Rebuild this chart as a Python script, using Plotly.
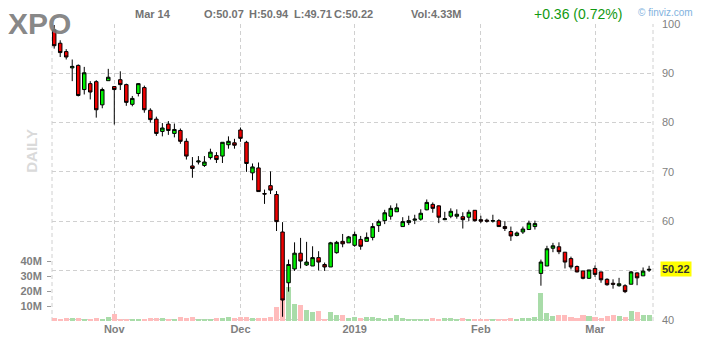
import plotly.graph_objects as go
import pandas as pd

W, H = 701, 347
L, R, T, B = 52, 48, 24, 23

# ---------------- data ----------------
holidays = ['2018-11-22', '2018-12-05', '2018-12-25', '2019-01-01', '2019-01-21', '2019-02-18']
dates = [d.strftime('%Y-%m-%d') for d in pd.bdate_range('2018-10-18', '2019-03-14')
         if d.strftime('%Y-%m-%d') not in holidays]

opens = [98.8, 96.1, 94.4, 91.1, 91.6, 86.7, 87.9, 88.3, 83.6, 88.5,
         87.3, 88.7, 87.7, 83.7, 85.9, 87.1, 82.5, 80.7, 78.2, 79.7,
         77.8, 78.4, 76.2, 71.2, 72.0, 71.3, 72.9, 73.3, 73.2, 75.5,
         75.9, 78.5, 76.0, 69.8, 70.8, 65.6, 67.2, 65.4, 57.8, 47.5,
         50.3, 53.5, 51.1, 50.9, 52.6, 51.2, 50.7, 53.6, 55.9, 55.6,
         55.1, 56.3, 55.9, 56.7, 59.1, 60.1, 61.0, 61.9, 58.9, 59.7,
         60.2, 60.4, 62.3, 63.4, 63.1, 60.3, 61.0, 61.0, 60.9, 60.8,
         62.2, 60.3, 60.2, 60.0, 60.1, 58.9, 57.9, 57.1, 57.8, 58.3,
         58.9, 49.4, 50.9, 54.5, 54.8, 53.7, 52.4, 50.8, 49.9, 48.4,
         50.4, 49.7, 48.2, 47.4, 46.9, 46.9, 47.2, 49.5, 48.9, 50.07]
highs = [99.8, 96.7, 94.9, 92.8, 91.8, 91.3, 88.4, 88.6, 87.1, 90.9,
         87.4, 90.4, 87.9, 85.4, 88.0, 87.5, 82.9, 81.2, 79.9, 80.3,
         79.8, 78.8, 76.8, 73.0, 73.2, 73.2, 74.7, 74.0, 76.0, 77.2,
         76.7, 79.0, 76.3, 71.7, 71.9, 66.4, 70.1, 66.1, 59.8, 52.2,
         55.7, 56.6, 55.8, 54.9, 53.9, 51.6, 55.8, 56.0, 57.4, 57.0,
         57.9, 57.0, 57.7, 59.6, 60.3, 62.3, 63.2, 63.6, 60.8, 61.1,
         61.3, 62.4, 64.4, 63.8, 63.2, 61.9, 62.6, 62.4, 61.8, 62.3,
         62.2, 61.1, 60.5, 61.3, 60.4, 60.0, 58.9, 57.9, 58.9, 60.1,
         60.1, 52.2, 55.0, 55.6, 55.7, 53.7, 52.8, 51.0, 49.9, 50.1,
         51.0, 49.7, 48.4, 48.2, 48.5, 47.2, 49.9, 49.6, 50.6, 50.94]
lows = [95.0, 93.3, 92.8, 88.4, 85.3, 85.7, 84.7, 81.0, 82.9, 88.5,
        79.6, 86.6, 83.4, 83.3, 85.3, 82.0, 80.0, 77.3, 77.2, 77.5,
        77.0, 75.7, 72.5, 68.8, 71.5, 71.0, 72.5, 71.8, 71.8, 74.7,
        74.7, 76.1, 70.0, 68.3, 66.0, 63.5, 65.5, 58.0, 40.6, 45.7,
        49.9, 50.4, 50.9, 50.9, 50.0, 49.9, 50.7, 53.4, 54.7, 55.6,
        54.8, 54.2, 55.9, 56.1, 57.8, 59.4, 60.3, 61.9, 58.9, 59.2,
        59.4, 60.1, 62.2, 61.7, 59.6, 60.2, 60.6, 60.5, 58.5, 60.0,
        59.9, 59.6, 59.7, 59.7, 58.9, 58.0, 56.0, 56.9, 57.4, 58.2,
        58.3, 46.9, 50.9, 53.7, 53.3, 50.4, 50.2, 49.6, 48.2, 48.3,
        48.7, 47.5, 46.9, 46.3, 46.7, 45.4, 47.2, 47.0, 48.9, 49.71]
closes = [95.6, 94.2, 93.3, 91.4, 85.5, 90.1, 86.2, 82.6, 86.7, 89.2,
          86.7, 87.7, 84.1, 84.9, 87.9, 82.6, 80.6, 77.8, 78.9, 78.4,
          78.6, 76.2, 73.2, 70.7, 72.2, 72.0, 74.0, 72.5, 76.0, 76.2,
          75.4, 76.8, 71.7, 71.0, 66.0, 65.5, 66.3, 59.9, 44.0, 51.2,
          53.5, 51.9, 51.7, 52.6, 51.7, 50.7, 55.6, 55.7, 55.4, 56.8,
          57.3, 54.9, 56.7, 58.9, 59.9, 61.7, 62.6, 62.7, 59.9, 60.1,
          60.4, 61.6, 63.8, 62.6, 60.8, 60.5, 62.0, 61.4, 60.3, 61.8,
          60.1, 60.0, 60.0, 60.1, 58.9, 58.5, 57.0, 57.6, 58.4, 59.6,
          59.5, 51.7, 54.4, 55.0, 53.8, 51.7, 50.7, 49.7, 48.4, 50.1,
          49.2, 48.1, 47.1, 47.2, 47.3, 45.7, 49.7, 48.5, 49.86, 50.22]
volumes_m = [2.0, 1.5, 2.0, 2.0, 2.0, 1.6, 1.6, 2.0, 1.6, 2.6,
             4.6, 1.4, 1.4, 1.4, 0.8, 1.4, 2.0, 2.0, 2.0, 1.4,
             1.4, 2.6, 2.2, 2.6, 1.4, 1.0, 1.4, 2.0, 2.0, 2.6,
             2.0, 2.6, 2.6, 2.0, 2.0, 2.0, 2.6, 9.3, 14.2, 22.7,
             11.6, 10.9, 7.6, 6.2, 6.9, 1.6, 6.2, 4.2, 3.8, 2.0,
             2.7, 1.8, 2.7, 2.7, 2.0, 1.6, 2.0, 3.8, 2.0, 1.6,
             1.6, 1.6, 1.6, 2.0, 1.6, 2.0, 2.0, 1.6, 2.0, 0.9,
             1.0, 1.6, 1.4, 0.9, 1.4, 1.6, 2.0, 1.6, 2.0, 2.0,
             2.7, 18.7, 5.5, 3.5, 4.0, 4.0, 2.7, 2.2, 4.0, 3.3,
             2.7, 2.2, 3.5, 4.0, 3.5, 2.7, 6.9, 6.0, 4.0, 4.33]

month_ticks = ['2018-11-01', '2018-12-03', '2019-01-02', '2019-02-01', '2019-03-01']
month_labels = ['Nov', 'Dec', '2019', 'Feb', 'Mar']
price_ticks = [40, 50, 60, 70, 80, 90, 100]
price_labels = ['40', '', '60', '70', '80', '90', '100']  # 50 is covered by the last-price box
vol_ticks = [10, 20, 30, 40]
vol_labels = ['10M', '20M', '30M', '40M']

ticker = 'XPO'
last_date = 'Mar 14'
ohlc_text = ['O:50.07', 'H:50.94', 'L:49.71', 'C:50.22']
vol_text = 'Vol:4.33M'
change_text = '+0.36 (0.72%)'
last_price = 50.22

assert len(dates) == len(opens) == len(highs) == len(lows) == len(closes) == len(volumes_m) == 100

# ---------------- figure ----------------
FONT = 'Liberation Sans, Arial, sans-serif'
GRID = '#d0d0d0'
DASH = '4px,3px'

def px2x(px):
    return (px - L) / (W - L - R)

def py2y(py):
    return (H - B - py) / (H - T - B)

vol_colors = ['#a9dca9' if c >= o else '#ffbcbc' for o, c in zip(opens, closes)]

fig = go.Figure()
fig.add_trace(go.Bar(x=dates, y=volumes_m, marker=dict(color=vol_colors, line=dict(width=0)),
                     width=0.84, yaxis='y', hoverinfo='skip', showlegend=False))
fig.add_trace(go.Candlestick(
    x=dates, open=opens, high=highs, low=lows, close=closes, yaxis='y2',
    increasing=dict(line=dict(color='#000000', width=1), fillcolor='#00f000'),
    decreasing=dict(line=dict(color='#000000', width=1), fillcolor='#f00000'),
    whiskerwidth=0, hoverinfo='skip', showlegend=False))

bar_px = 6.009
x0 = -(54.2 - L) / bar_px
x1 = x0 + (W - L - R) / bar_px

tick_font_bold = dict(family=FONT, size=11, color='#7f7f7f', weight='bold')

fig.update_layout(
    width=W, height=H, margin=dict(l=L, r=R, t=T, b=B, pad=0),
    paper_bgcolor='white', plot_bgcolor='white',
    hovermode=False, bargap=0, boxgap=0.17,
    xaxis=dict(type='category', range=[x0, x1], tickmode='array', tickvals=month_ticks,
               ticktext=month_labels, showgrid=True, gridcolor=GRID, griddash=DASH, gridwidth=1,
               ticks='', showline=False, zeroline=False, tickfont=tick_font_bold,
               rangeslider=dict(visible=False), fixedrange=True),
    yaxis=dict(side='left', range=[0, 200], tickmode='array', tickvals=vol_ticks, ticktext=vol_labels,
               showgrid=False, zeroline=False, showline=False, ticks='outside', ticklen=4,
               tickcolor='#9a9a9a', tickfont=tick_font_bold, ticklabelstandoff=3, fixedrange=True),
    yaxis2=dict(side='right', overlaying='y', range=[39.74, 100], tickmode='array', tickvals=price_ticks,
                ticktext=price_labels,
                showgrid=True, gridcolor=GRID, griddash=DASH, gridwidth=1, zeroline=False, showline=False,
                ticks='', tickfont=dict(family=FONT, size=11, color='#7f7f7f'), ticklabelstandoff=8,
                fixedrange=True),
)

# dashed frame left/right
for xx in (0, 1):
    fig.add_shape(type='line', xref='paper', yref='paper', x0=xx, x1=xx, y0=0, y1=1,
                  line=dict(color=GRID, width=1, dash=DASH), layer='below')

ann = []
ann.append(dict(text=f'<b>{ticker}</b>', x=px2x(6), y=py2y(23), xanchor='left', yanchor='middle',
                font=dict(family=FONT, size=30, color='rgba(120,120,120,0.9)')))
ann.append(dict(text='<b>DAILY</b>', x=px2x(32), y=py2y(152), xanchor='center', yanchor='middle',
                textangle=-90, font=dict(family=FONT, size=15, color='#dadada')))
ann.append(dict(text=f'<b>{last_date}</b>', x=px2x(133), y=py2y(14), xanchor='left', yanchor='middle',
                font=dict(family=FONT, size=11, color='#737373')))
for txt, lx in zip(ohlc_text, [202, 247, 292, 332]):
    ann.append(dict(text=f'<b>{txt}</b>', x=px2x(lx), y=py2y(14), xanchor='left', yanchor='middle',
                    font=dict(family=FONT, size=11, color='#737373')))
ann.append(dict(text=f'<b>{vol_text}</b>', x=px2x(409), y=py2y(14), xanchor='left', yanchor='middle',
                font=dict(family=FONT, size=11, color='#737373')))
ann.append(dict(text=change_text, x=px2x(532), y=py2y(14), xanchor='left', yanchor='middle',
                font=dict(family=FONT, size=14, color='#119911')))
ann.append(dict(text='© finviz.com', x=px2x(636), y=py2y(12), xanchor='left', yanchor='middle',
                font=dict(family=FONT, size=10, color='#82b2de')))
ann.append(dict(text=f'<b>{last_price:.2f}</b>', x=px2x(660), y=last_price, yref='y2', xanchor='left',
                yanchor='middle', bgcolor='#ffff00', borderpad=1,
                font=dict(family=FONT, size=11, color='#333333')))
for a in ann:
    a.setdefault('xref', 'paper')
    a.setdefault('yref', 'paper')
    a['showarrow'] = False
fig.update_layout(annotations=ann)

fig.write_html('out.html', config={'displayModeBar': False})
